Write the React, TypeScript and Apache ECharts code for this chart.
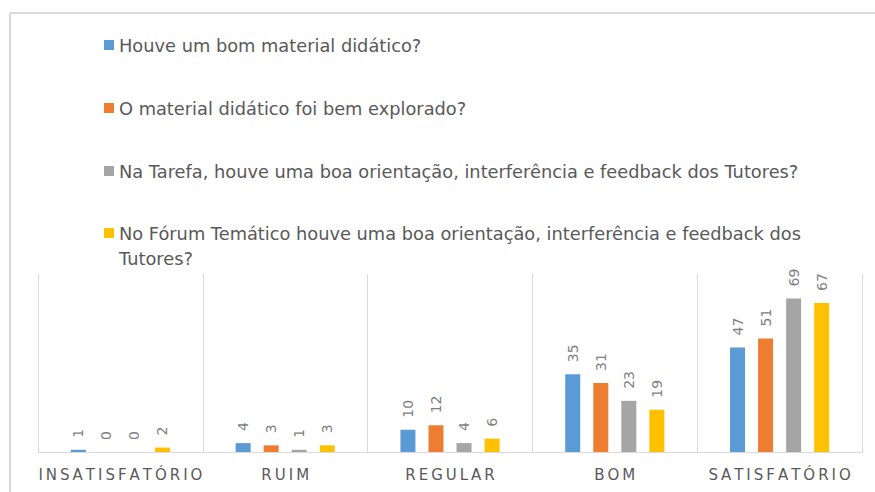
import React, { useEffect, useRef } from "react";
import * as echarts from "echarts";

const categories = ["INSATISFATÓRIO", "RUIM", "REGULAR", "BOM", "SATISFATÓRIO"];
const seriesNames = [
  "Houve um bom material didático?",
  "O material didático foi bem explorado?",
  "Na Tarefa, houve uma boa orientação, interferência e feedback dos Tutores?",
  "No Fórum Temático houve uma boa orientação, interferência e feedback dos Tutores?",
];
const valuesMaterial = [1, 4, 10, 35, 47];
const valuesExplorado = [0, 3, 12, 31, 51];
const valuesTarefa = [0, 1, 4, 23, 69];
const valuesForum = [2, 3, 6, 19, 67];
const colors = ["#5B9BD5", "#ED7D31", "#A5A5A5", "#FFC000"];

const FONT = "'DejaVu Sans', sans-serif";

export default function App() {
  const ref = useRef<HTMLDivElement>(null);
  useEffect(() => {
    if (!ref.current) return;
    const chart = echarts.init(ref.current, undefined, { renderer: "svg" });
    const all = [valuesMaterial, valuesExplorado, valuesTarefa, valuesForum];
    chart.setOption({
      animation: false,
      backgroundColor: "#ffffff",
      textStyle: { fontFamily: FONT },
      graphic: [
        { type: "line", shape: { x1: 10, y1: 13, x2: 875, y2: 13 }, style: { stroke: "#d9d9d9", lineWidth: 2 } },
        { type: "line", shape: { x1: 10, y1: 13, x2: 10, y2: 492 }, style: { stroke: "#d9d9d9", lineWidth: 2 } },
      ],
      legend: [
        {
          orient: "vertical",
          left: 104,
          top: 35,
          padding: 0,
          itemWidth: 10,
          itemHeight: 10,
          itemGap: 43,
          icon: "rect",
          data: seriesNames.slice(0, 3),
          textStyle: { color: "#595959", fontSize: 17.8, lineHeight: 20, fontFamily: FONT },
        },
        {
          orient: "vertical",
          left: 104,
          top: 195.5,
          padding: 0,
          itemWidth: 10,
          itemHeight: 10,
          icon: "rect",
          data: [seriesNames[3]],
          formatter: (name: string) => {
            const k = name.lastIndexOf(" ");
            return "\n" + name.slice(0, k) + "\n" + name.slice(k + 1);
          },
          textStyle: {
            color: "#595959",
            fontSize: 17.8,
            lineHeight: 25,
            fontFamily: FONT,
          },
        },
      ],
      grid: { left: 38, right: 13, top: 274, bottom: 40, containLabel: false },
      xAxis: {
        type: "category",
        data: categories,
        axisLine: { lineStyle: { color: "#d9d9d9", width: 1 } },
        axisTick: { show: false },
        splitLine: { show: true, interval: 0, lineStyle: { color: "#d9d9d9", width: 1 } },
        axisLabel: {
          interval: 0,
          color: "#595959",
          fontSize: 15,
          margin: 15,
          fontFamily: FONT,
          formatter: (v: string) => v.split("").join("\u2009"),
        },
      },
      yAxis: { type: "value", min: 0, max: 80, show: false, splitLine: { show: false } },
      series: all.map((vals, i) => ({
        type: "bar",
        name: seriesNames[i],
        data: vals,
        barWidth: 15,
        barGap: "87%",
        itemStyle: { color: colors[i] },
        label: {
          show: true,
          position: "top",
          rotate: 90,
          align: "left",
          verticalAlign: "middle",
          distance: 12,
          color: "#7f7f7f",
          fontSize: 14,
          fontFamily: FONT,
        },
      })),
    });
    return () => chart.dispose();
  }, []);
  return (
    <div
      ref={ref}
      style={{ position: "absolute", left: 0, top: 0, width: 875, height: 492 }}
    />
  );
}
